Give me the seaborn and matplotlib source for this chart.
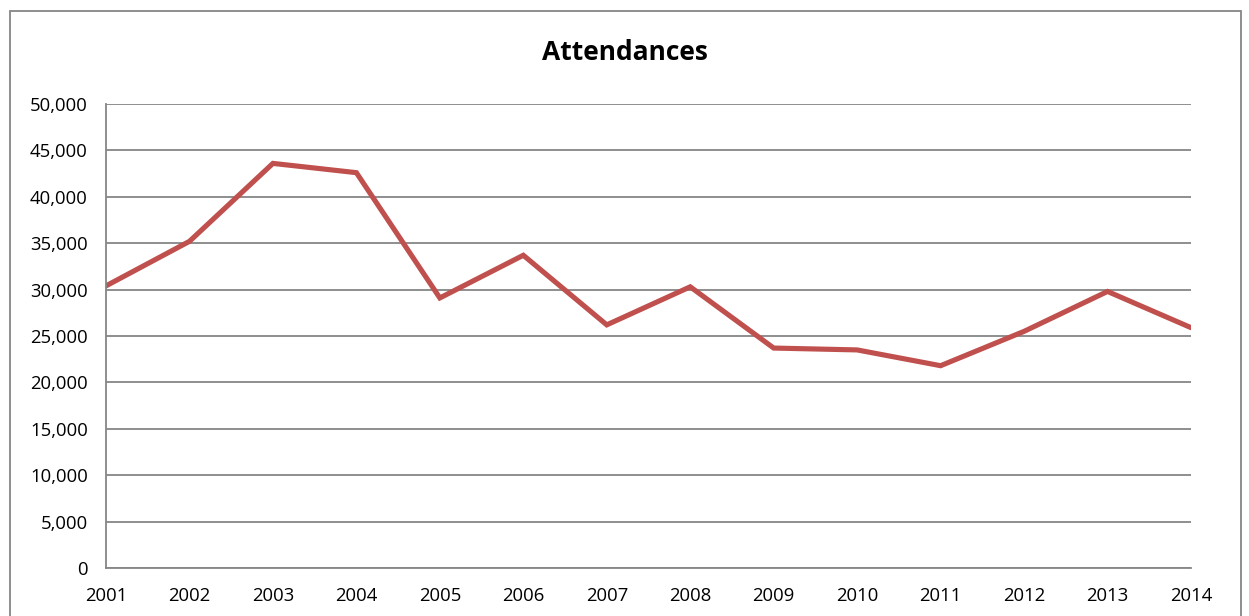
import matplotlib
matplotlib.use("Agg")
import matplotlib.pyplot as plt
import seaborn as sns
import pandas as pd
from matplotlib.patches import Rectangle
from matplotlib.ticker import FuncFormatter, MultipleLocator

# Data
years = [2001, 2002, 2003, 2004, 2005, 2006, 2007,
         2008, 2009, 2010, 2011, 2012, 2013, 2014]
attendances = [30400, 35200, 43600, 42600, 29100, 33700, 26200,
               30300, 23700, 23500, 21800, 25500, 29800, 25900]

df = pd.DataFrame({"Year": years, "Attendances": attendances})

sns.set_theme(style="white")
plt.rcParams['font.family'] = ['Open Sans', 'DejaVu Sans']

fig = plt.figure(figsize=(12.49, 6.16), dpi=100)
ax = fig.add_axes([106 / 1249, 48 / 616, 1085 / 1249, 464 / 616])

grid_col = "#868686"

sns.lineplot(data=df, x="Year", y="Attendances", ax=ax,
             color="#C0504D", linewidth=3.7, solid_joinstyle="miter")

ax.set_xlim(years[0], years[-1])
ax.set_ylim(0, 50000)
ax.yaxis.set_major_locator(MultipleLocator(5000))
ax.yaxis.set_major_formatter(FuncFormatter(lambda v, p: f"{int(v):,}"))
ax.set_xticks(years)
ax.set_xticklabels([str(y) for y in years])

ax.grid(axis="y", color=grid_col, linewidth=1.3)
ax.set_axisbelow(True)
for side in ["top", "right"]:
    ax.spines[side].set_visible(False)
for side in ["left", "bottom"]:
    ax.spines[side].set_color(grid_col)
    ax.spines[side].set_linewidth(1.3)

ax.tick_params(axis="both", which="major", direction="out", length=5,
               width=1.3, color=grid_col, labelsize=13.3, labelcolor="black")
ax.tick_params(axis="y", pad=8)
ax.tick_params(axis="x", pad=9)
ax.set_xlabel("")
ax.set_ylabel("")

fig.text(625 / 1249, 1 - 53 / 616, "Attendances", ha="center", va="center",
         fontsize=19, fontweight="bold", color="black")

# chart-area border, running off the bottom like in the reference
border = Rectangle((10 / 1249, -0.05), 1231 / 1249, 1.05 - 11 / 616,
                   transform=fig.transFigure, fill=False,
                   edgecolor=grid_col, linewidth=1.3, clip_on=False)
fig.patches.append(border)

fig.savefig("out.png", dpi=100)
